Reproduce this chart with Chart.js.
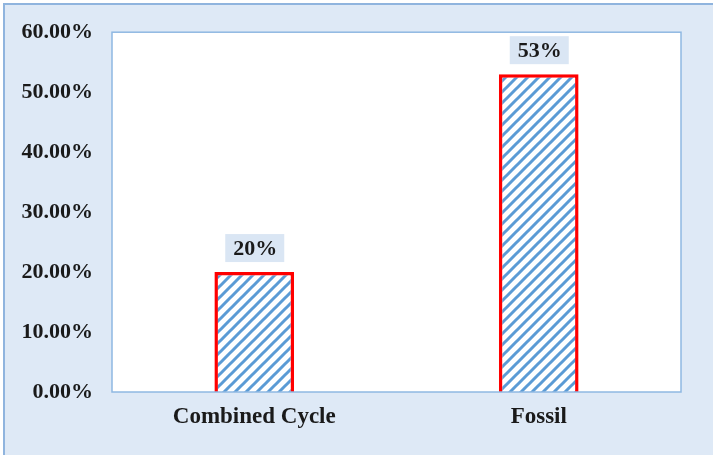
<!DOCTYPE html>
<html>
<head>
<meta charset="utf-8">
<script src="https://cdn.jsdelivr.net/npm/chart.js@4"></script>
<style>
  html, body { margin: 0; padding: 0; background: #ffffff; }
  .frame {
    position: absolute; left: 3px; top: 3px; width: 720px; height: 460px;
    background: #dee9f6; border-left: 2px solid #8fb4de; border-top: 2px solid #8fb4de;
  }
  #wrap { position: absolute; left: 0; top: 0; width: 713px; height: 455px; }
</style>
</head>
<body>
<div class="frame"></div>
<div id="wrap"><canvas id="chart"></canvas></div>
<script>
const categories = ['Combined Cycle', 'Fossil'];
const shares = [20, 53];
const barLabels = ['20%', '53%'];
const yTicks = [0, 10, 20, 30, 40, 50, 60];

// diagonal hatch like the office "wide upward diagonal" fill
function makeHatch() {
    const s = 11;
    const c = document.createElement('canvas');
    c.width = s; c.height = s;
    const g = c.getContext('2d');
    g.fillStyle = '#ffffff';
    g.fillRect(0, 0, s, s);
    g.strokeStyle = '#5b9bd5';
    g.lineWidth = 3;
    g.beginPath();
    g.moveTo(-2, s + 2); g.lineTo(s + 2, -2);
    g.moveTo(-2, 2); g.lineTo(2, -2);
    g.moveTo(s - 2, s + 2); g.lineTo(s + 2, s - 2);
    g.stroke();
    return g.createPattern(c, 'repeat');
}

const plotFrame = {
    id: 'plotFrame',
    beforeDraw(chart) {
        const { ctx, chartArea: a } = chart;
        ctx.save();
        ctx.fillStyle = '#ffffff';
        ctx.fillRect(a.left, a.top, a.right - a.left, a.bottom - a.top);
        ctx.restore();
    },
    afterDatasetsDraw(chart) {
        const { ctx, chartArea: a } = chart;
        ctx.save();
        ctx.strokeStyle = '#8fb8e2';
        ctx.lineWidth = 1.5;
        ctx.strokeRect(a.left, a.top, a.right - a.left, a.bottom - a.top);
        // value boxes
        const meta = chart.getDatasetMeta(0);
        ctx.font = 'bold 22px "Liberation Serif", serif';
        ctx.textAlign = 'center';
        ctx.textBaseline = 'middle';
        meta.data.forEach((bar, i) => {
            const cy = bar.y - 24;
            ctx.fillStyle = '#dae6f4';
            ctx.fillRect(bar.x - 29, cy - 14, 59, 28);
            ctx.fillStyle = '#1a1a1a';
            ctx.fillText(barLabels[i], bar.x + 1, cy + 1);
        });
        ctx.restore();
    }
};

const ctx = document.getElementById('chart').getContext('2d');
new Chart(ctx, {
    type: 'bar',
    data: {
        labels: categories,
        datasets: [{
            data: shares,
            backgroundColor: makeHatch(),
            borderColor: '#ff0000',
            borderWidth: 3.5,
            borderSkipped: 'bottom',
            barPercentage: 0.56,
            categoryPercentage: 0.5
        }]
    },
    options: {
        responsive: true,
        maintainAspectRatio: false,
        animation: false,
        layout: { padding: { left: 0, right: 32, top: 32, bottom: 0 } },
        plugins: { legend: { display: false }, tooltip: { enabled: false } },
        scales: {
            x: {
                grid: { display: false, drawTicks: false },
                border: { display: false },
                ticks: {
                    padding: 11,
                    color: '#1a1a1a',
                    font: { family: '"Liberation Serif", serif', size: 23, weight: 'bold' }
                },
                afterFit(scale) { scale.height = 63; }
            },
            y: {
                min: 0,
                max: 60,
                grid: { display: false, drawTicks: false },
                border: { display: false },
                afterBuildTicks(scale) { scale.ticks = yTicks.map(v => ({ value: v })); },
                ticks: {
                    padding: 19,
                    color: '#1a1a1a',
                    font: { family: '"Liberation Serif", serif', size: 22, weight: 'bold' },
                    callback: v => v.toFixed(2) + '%'
                },
                afterFit(scale) { scale.width = 112; }
            }
        }
    },
    plugins: [plotFrame]
});
</script>
</body>
</html>
